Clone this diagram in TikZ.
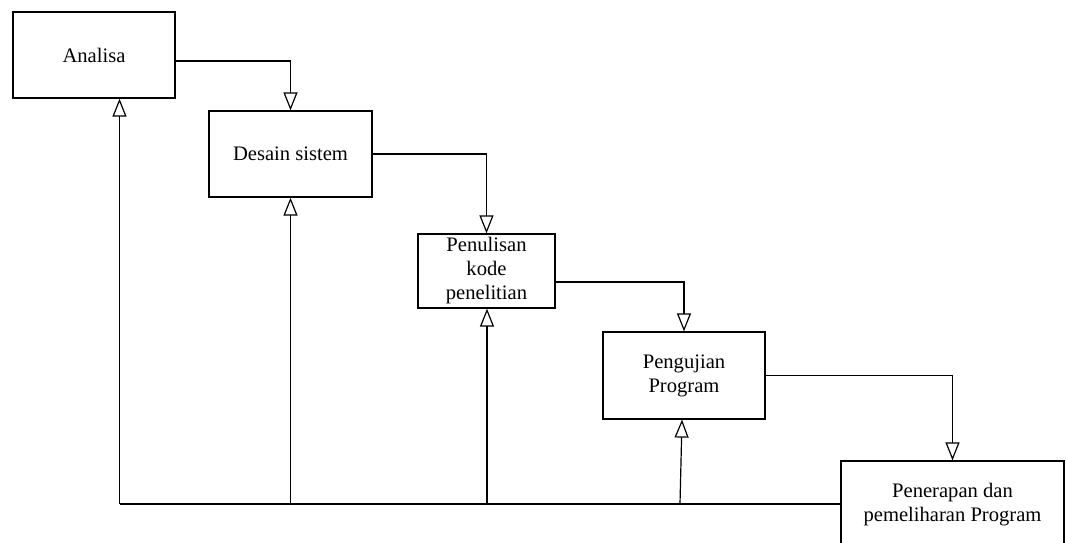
\documentclass[tikz,border=0pt]{standalone}
\usepackage{fontspec}
\setmainfont{Liberation Serif}
\usetikzlibrary{arrows.meta}
\begin{document}
\begin{tikzpicture}[x=1pt,y=-1pt,
  box/.style={draw, line width=1.2pt, rectangle, align=center, inner sep=0pt,
    font=\fontsize{20.6}{24}\selectfont},
  conn/.style={draw, line width=1.2pt},
  arr/.style={conn, -{Triangle[open,length=18pt,width=14pt]}}]
\useasboundingbox (0,0) rectangle (1066,543);
\node[box, minimum width=162pt, minimum height=86pt] (a) at (94,55) {Analisa};
\node[box, minimum width=163pt, minimum height=86pt] (d) at (290.5,154) {Desain sistem};
\node[box, minimum width=137pt, minimum height=74pt] (p) at (486.5,271) {Penulisan\\kode\\penelitian};
\node[box, minimum width=162pt, minimum height=87pt] (g) at (684,375.5) {Pengujian\\Program};
\node[box, minimum width=223pt, minimum height=88pt] (r) at (952.5,505) {Penerapan dan\\pemeliharan Program};
\draw[arr] ([yshift=-6pt]a.east) -| (d.north);
\draw[arr] (d.east) -| (p.north);
\draw[arr] ([yshift=-11pt]p.east) -| (g.north);
\draw[arr] (g.east) -| (r.north);
\coordinate (f1) at (119.5,504);
\coordinate (f2) at (290.5,504);
\coordinate (f3) at (487,504);
\coordinate (f4) at (680,504);
\draw[conn] (f1) -- (f1 -| r.west);
\draw[arr] (f1) -- (f1 |- a.south);
\draw[arr] (f2) -- (f2 |- d.south);
\draw[arr] (f3) -- (f3 |- p.south);
\draw[arr] (f4) -- ([xshift=-2pt]g.south);
\end{tikzpicture}
\end{document}
